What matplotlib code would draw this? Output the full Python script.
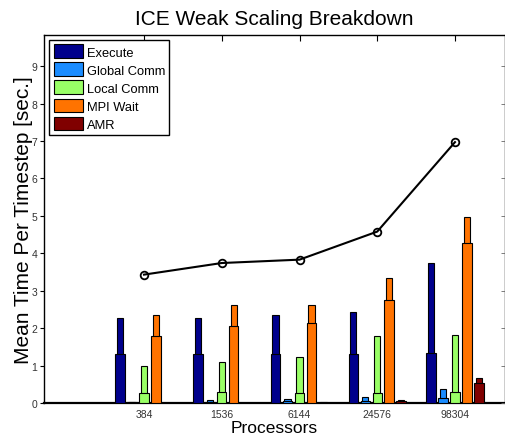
import matplotlib
matplotlib.use("Agg")
import matplotlib.pyplot as plt
import numpy as np

plt.rcParams['font.family'] = ['Liberation Sans', 'DejaVu Sans']

processors = ["384", "1536", "6144", "24576", "98304"]
series = ["Execute", "Global Comm", "Local Comm", "MPI Wait", "AMR"]
colors = ["#00008C", "#1A8CFF", "#99FF66", "#FF7300", "#800000"]

# average (wide bar) and maximum (narrow bar) time per component
execute_avg = [1.31, 1.31, 1.30, 1.30, 1.33]
execute_max = [2.27, 2.28, 2.35, 2.42, 3.74]
global_avg = [0.02, 0.04, 0.05, 0.06, 0.13]
global_max = [0.03, 0.08, 0.12, 0.17, 0.37]
local_avg = [0.27, 0.29, 0.28, 0.28, 0.30]
local_max = [0.98, 1.09, 1.24, 1.78, 1.82]
mpi_avg = [1.79, 2.05, 2.13, 2.75, 4.27]
mpi_max = [2.35, 2.62, 2.63, 3.33, 4.98]
amr_avg = [0.01, 0.01, 0.01, 0.05, 0.53]
amr_max = [0.01, 0.01, 0.02, 0.08, 0.67]

total_time = [3.43, 3.74, 3.83, 4.58, 6.97]

avgs = [execute_avg, global_avg, local_avg, mpi_avg, amr_avg]
maxs = [execute_max, global_max, local_max, mpi_max, amr_max]

fig = plt.figure(figsize=(5.06, 4.39), dpi=100)
ax = fig.add_axes([0.087, 0.0797, 0.911, 0.839])

x = np.arange(1, len(processors) + 1)
step = 0.154
wide, narrow = 0.122, 0.081

handles = []
for i, (name, col) in enumerate(zip(series, colors)):
    pos = x + (i - 2) * step
    ax.bar(pos, maxs[i], width=narrow, color=col, edgecolor="black",
           linewidth=0.8, zorder=2)
    h = ax.bar(pos, avgs[i], width=wide, color=col, edgecolor="black",
               linewidth=0.8, zorder=3, label=name)
    handles.append(h)

ax.plot(x, total_time, color="black", linewidth=1.5, marker="o",
        markersize=5.5, markerfacecolor="none", markeredgewidth=1.3, zorder=4)

ax.set_xlim(-0.286, 5.643)
ax.set_ylim(0, 9.84)
ax.set_xticks(x)
ax.set_xticklabels(processors, fontsize=7.5, color="#333333")
ax.set_yticks(range(0, 10))
ax.set_yticklabels([str(v) for v in range(0, 10)], fontsize=7.5, color="#333333")

ax.tick_params(axis="x", bottom=False, top=True, direction="in", length=4,
               width=0.8, pad=4)
ax.tick_params(axis="y", left=True, right=False, direction="out", length=3,
               width=0.8, pad=2)

# inward ticks on the right side
ax_r = ax.twinx()
ax_r.set_ylim(ax.get_ylim())
ax_r.set_yticks(range(0, 10))
ax_r.tick_params(axis="y", direction="in", length=3, width=0.6,
                 labelright=False, color="#666666")

for sp in ax.spines.values():
    sp.set_linewidth(1.0)
ax.spines["bottom"].set_linewidth(1.6)
for sp in ax_r.spines.values():
    sp.set_visible(False)

ax.set_title("ICE Weak Scaling Breakdown", fontsize=15, pad=8)
ax.set_xlabel("Processors", fontsize=12.5, labelpad=1)
ax.set_ylabel("Mean Time Per Timestep [sec.]", fontsize=15, labelpad=-1)

leg = ax.legend(handles=handles, loc="upper left", fontsize=9.3,
                bbox_to_anchor=(0.011, 0.986), borderaxespad=0,
                fancybox=False, framealpha=1, edgecolor="black",
                handlelength=2.3, handleheight=1.25, handletextpad=0.25,
                labelspacing=0.3, borderpad=0.35)
leg.get_frame().set_linewidth(1.0)
leg.set_zorder(10)

fig.savefig("out.png", dpi=100)
